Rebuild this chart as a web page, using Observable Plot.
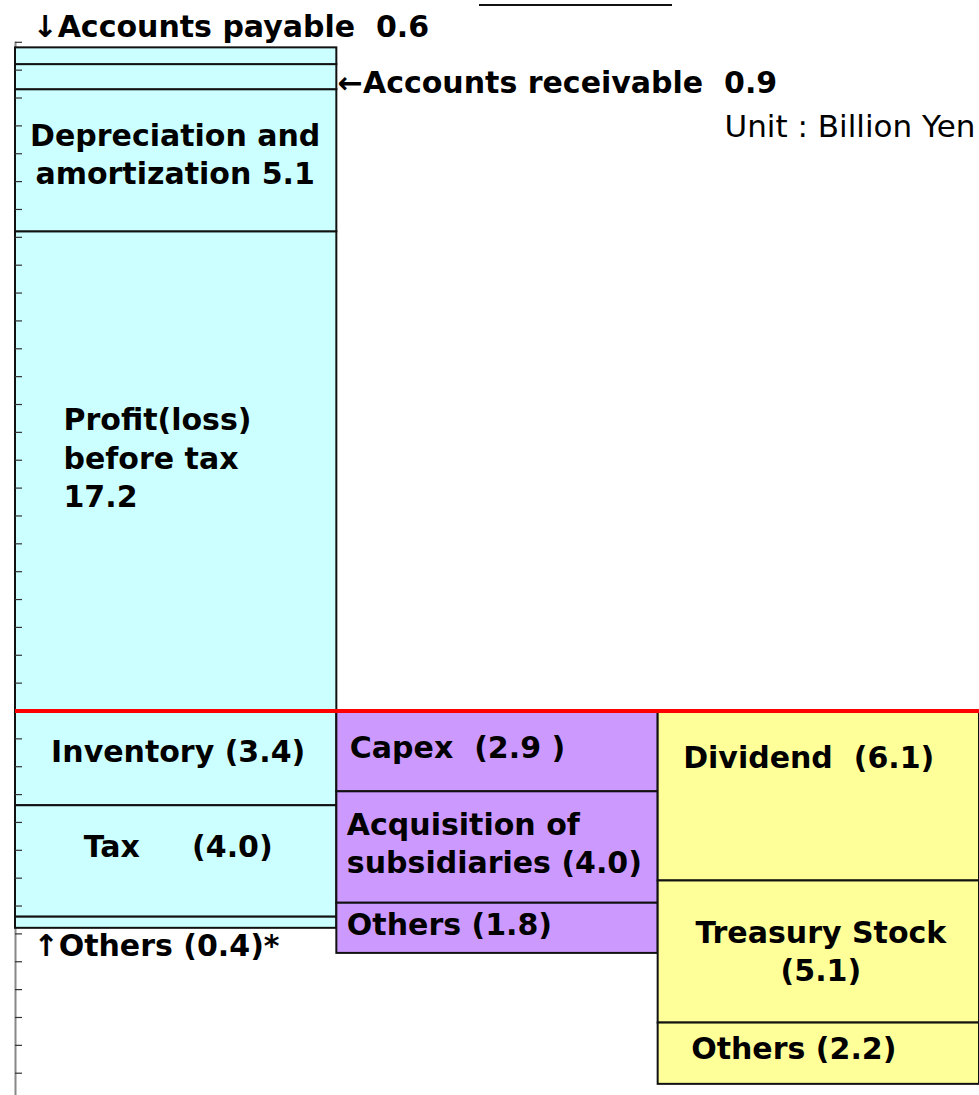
<!DOCTYPE html>
<html>
<head>
<meta charset="utf-8">
<script src="https://cdn.jsdelivr.net/npm/d3@7"></script>
<script src="https://cdn.jsdelivr.net/npm/@observablehq/plot@0.6"></script>
<style>
  body { margin: 0; background: #fff; }
  #wrap { position: relative; width: 979px; height: 1095px; overflow: hidden; }
  #title-rule { position: absolute; left: 479px; top: 4px; width: 193px; height: 0; border-top: 2px solid #111; }
  #wrap svg { position: absolute; left: 0; top: 0; }
</style>
</head>
<body>
<div id="wrap"><div id="title-rule"></div></div>
<script>
// ---- data (Billion Yen) ----
const inflowItems = ["Profit(loss) before tax", "Depreciation and amortization", "Accounts receivable", "Accounts payable"];
const inflowValues = [17.2, 5.1, 0.9, 0.6];
const inflowTexts = ["Profit(loss)\nbefore tax\n17.2", "Depreciation and\namortization 5.1", "←Accounts receivable\u00a0\u00a00.9", "↓Accounts payable\u00a0\u00a00.6"];

const operatingOutItems = ["Inventory", "Tax", "Others"];
const operatingOutValues = [3.4, 4.0, 0.4];
const operatingOutTexts = ["Inventory (3.4)", "Tax\u00a0\u00a0\u00a0\u00a0\u00a0(4.0)", "↑Others (0.4)*"];

const investingItems = ["Capex", "Acquisition of subsidiaries", "Others"];
const investingValues = [2.9, 4.0, 1.8];
const investingTexts = ["Capex\u00a0\u00a0(2.9\u00a0)", "Acquisition of\nsubsidiaries (4.0)", "Others (1.8)"];

const financingItems = ["Dividend", "Treasury Stock", "Others"];
const financingValues = [6.1, 5.1, 2.2];
const financingTexts = ["Dividend\u00a0\u00a0(6.1)", "Treasury Stock\n(5.1)", "Others (2.2)"];

const yTicks = d3.range(-13, 25);
const unitText = "Unit : Billion Yen";

// ---- build stacked segments ----
function stack(col, items, values, texts, sign, fill) {
  let acc = 0;
  return items.map((item, i) => {
    const y1 = acc;
    acc += sign * values[i];
    return {col, item, value: values[i], text: texts[i], y1, y2: acc, fill};
  });
}
const CYAN = "#CCFFFF", PURPLE = "#CC99FF", YELLOW = "#FFFF99";
const segments = [
  ...stack(0, inflowItems, inflowValues, inflowTexts, 1, CYAN),
  ...stack(0, operatingOutItems, operatingOutValues, operatingOutTexts, -1, CYAN),
  ...stack(1, investingItems, investingValues, investingTexts, -1, PURPLE),
  ...stack(2, financingItems, financingValues, financingTexts, -1, YELLOW)
];

// label placement (style/layout, kept separate from data), in segment order
const placement = [
  {ref: "mid", xr: "start", dx: 48, dy: -15, a: "start"},
  {ref: "mid", xr: "center", dx: -1, dy: -8, a: "middle"},
  {ref: "mid", xr: "end", dx: 1, dy: 4, a: "start"},
  {ref: "top", xr: "start", dx: 17, dy: -23, a: "start"},
  {ref: "mid", xr: "center", dx: 2, dy: -9, a: "middle"},
  {ref: "mid", xr: "center", dx: 2, dy: -17, a: "middle"},
  {ref: "bottom", xr: "start", dx: 18, dy: 15, a: "start"},
  {ref: "mid", xr: "start", dx: 13, dy: -6, a: "start"},
  {ref: "mid", xr: "start", dx: 10, dy: -6, a: "start"},
  {ref: "mid", xr: "start", dx: 10, dy: -6, a: "start"},
  {ref: "top", xr: "start", dx: 25, dy: 45, a: "start"},
  {ref: "mid", xr: "center", dx: 2, dy: -2, a: "middle"},
  {ref: "mid", xr: "start", dx: 33, dy: -7, a: "start"}
];

const labelMarks = segments.map((s, i) => {
  const p = placement[i];
  const yv = p.ref === "mid" ? (s.y1 + s.y2) / 2 : p.ref === "top" ? Math.max(s.y1, s.y2) : Math.min(s.y1, s.y2);
  const xv = p.xr === "start" ? s.col : p.xr === "end" ? s.col + 1 : s.col + 0.5;
  return Plot.text([s], {
    x: () => xv, y: () => yv, text: "text",
    dx: p.dx, dy: p.dy, textAnchor: p.a, lineAnchor: "middle",
    lineHeight: 1.27, fill: "#000", fontWeight: "bold", fontSize: 30
  });
});

const yBottom = -13.8, yTop = 25.5;

const chart = Plot.plot({
  width: 979,
  height: 1095,
  marginLeft: 15,
  marginRight: 0,
  marginTop: 0,
  marginBottom: 0,
  style: {fontFamily: "DejaVu Sans", fontSize: "30px", background: "transparent", overflow: "visible"},
  x: {domain: [0, 3], axis: null},
  y: {domain: [yBottom, yTop]},
  marks: [
    Plot.ruleX([0], {y1: d3.max(yTicks), y2: yBottom, stroke: "#888", strokeWidth: 2}),
    Plot.rect(segments, {
      x1: "col", x2: d => d.col + 1, y1: "y1", y2: "y2",
      fill: "fill", stroke: "#111", strokeWidth: 2
    }),
    Plot.axisY({ticks: yTicks, tickSize: 7, dx: 7, tickFormat: () => "", stroke: "#333", strokeWidth: 1.2}),
    Plot.ruleY([0], {stroke: "#FF0000", strokeWidth: 4}),
    ...labelMarks,
    Plot.text([unitText], {
      frameAnchor: "top-right", text: d => d, textAnchor: "end", lineAnchor: "middle",
      dx: -4, dy: 127, fontSize: 31, fontWeight: "normal", fill: "#000"
    })
  ]
});

document.getElementById("wrap").appendChild(chart);
</script>
</body>
</html>
